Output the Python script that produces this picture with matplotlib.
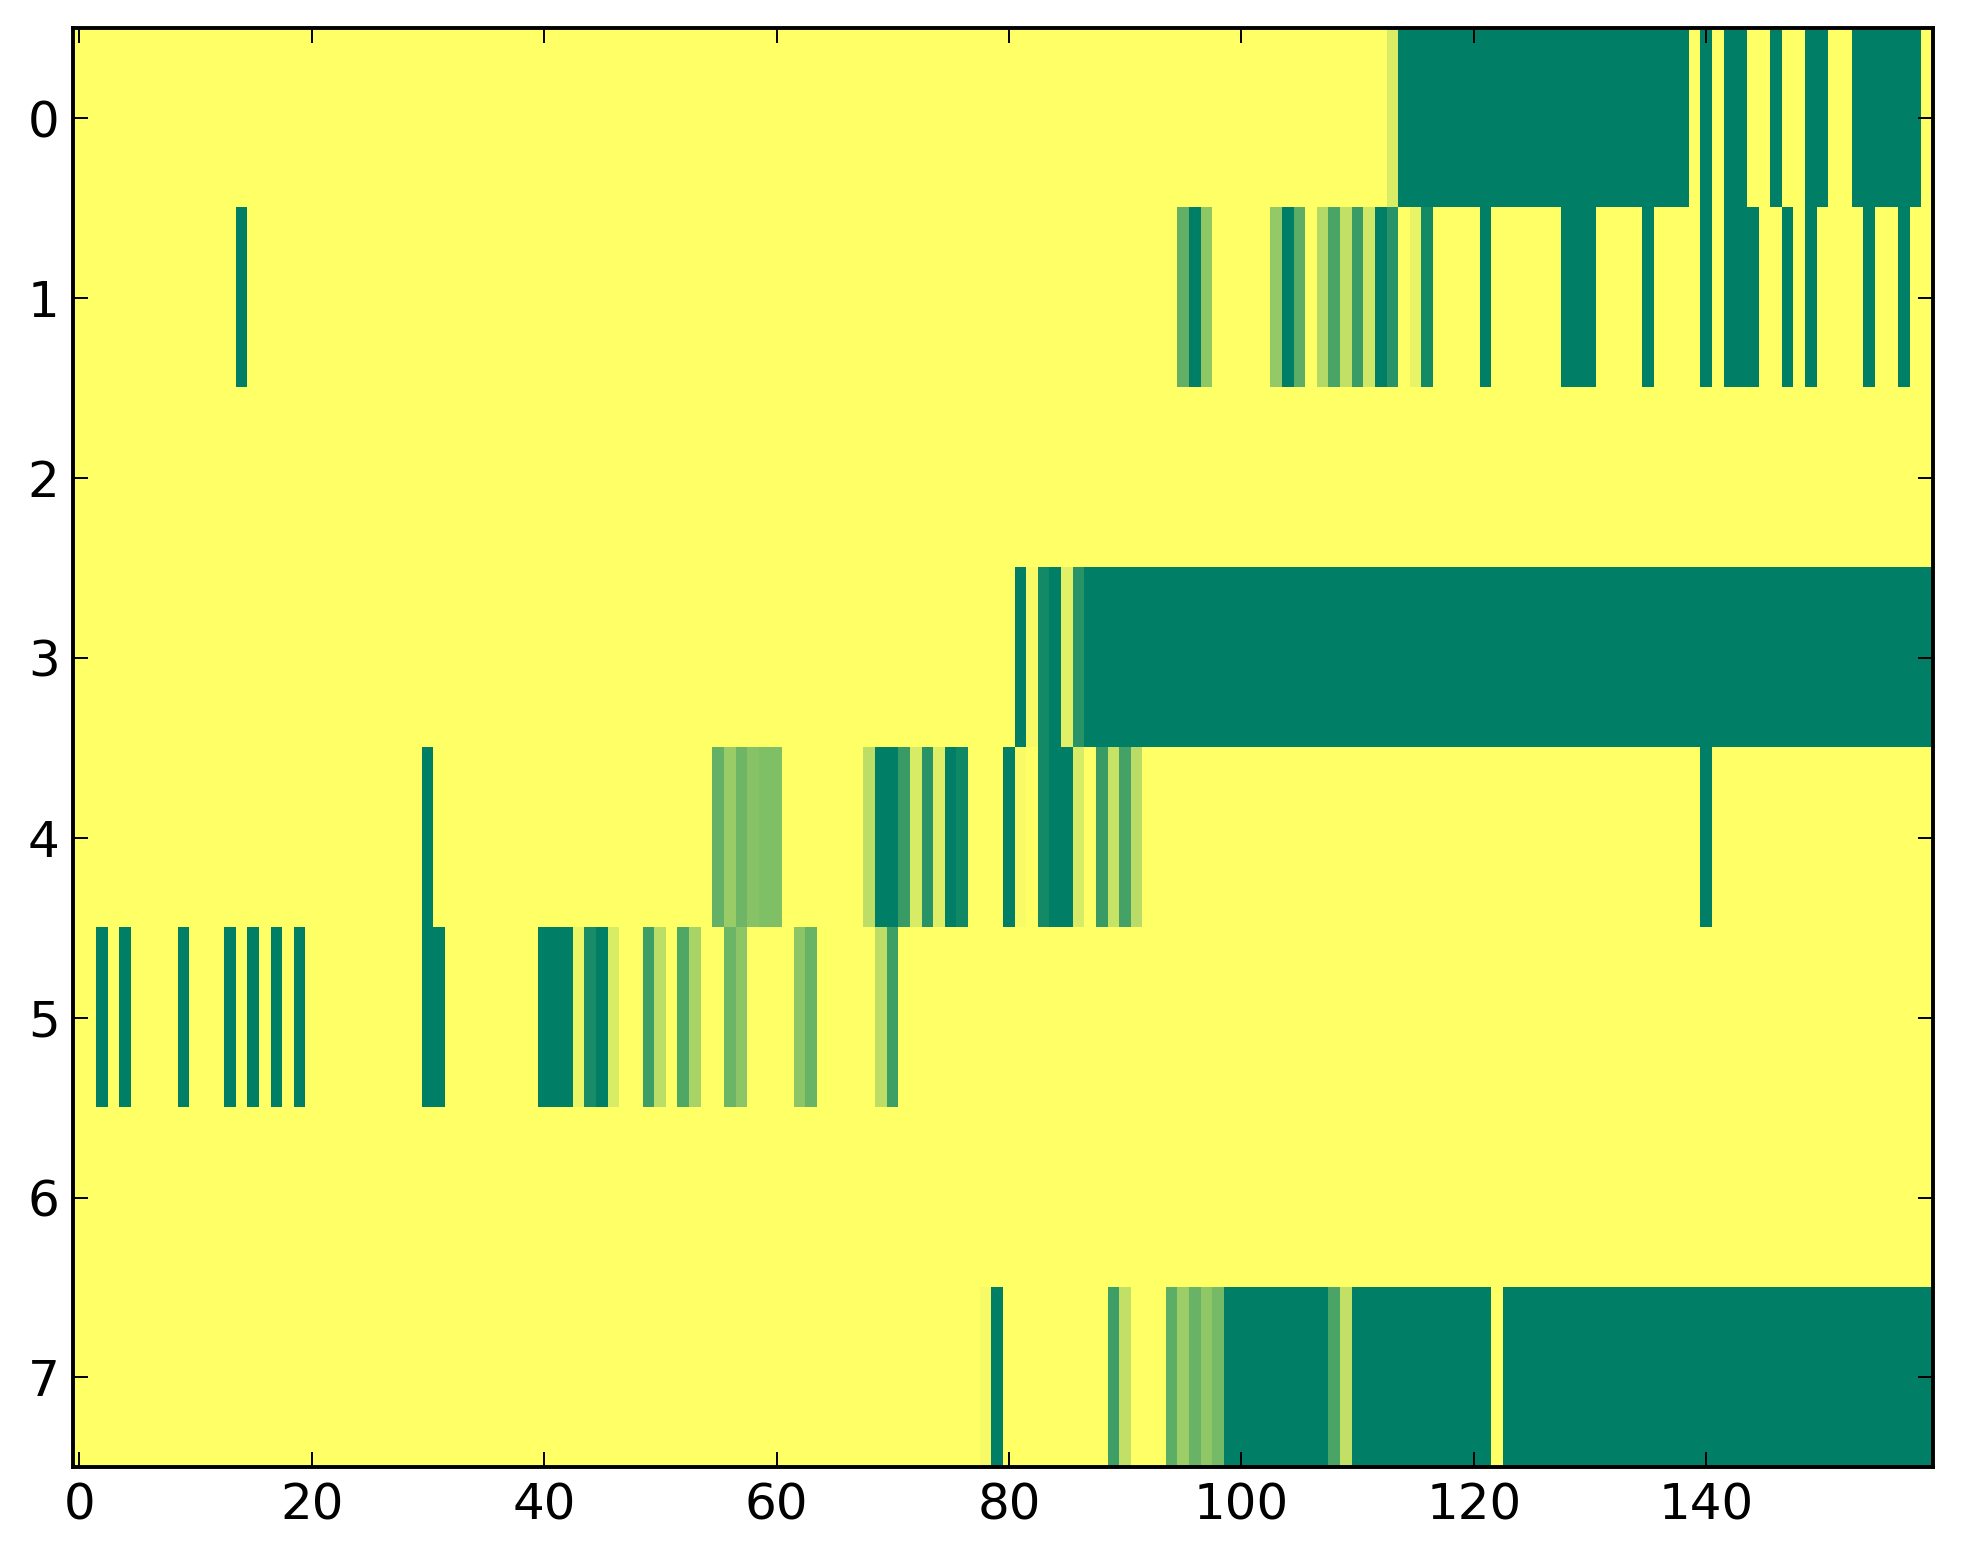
import numpy as np
import matplotlib
matplotlib.use("Agg")
import matplotlib.pyplot as plt

# one list per row, 160 columns, 20 values per line
row0 = [
    0, 0, 0, 0, 0, 0, 0, 0, 0, 0, 0, 0, 0, 0, 0, 0, 0, 0, 0, 0,
    0, 0, 0, 0, 0, 0, 0, 0, 0, 0, 0, 0, 0, 0, 0, 0, 0, 0, 0, 0,
    0, 0, 0, 0, 0, 0, 0, 0, 0, 0, 0, 0, 0, 0, 0, 0, 0, 0, 0, 0,
    0, 0, 0, 0, 0, 0, 0, 0, 0, 0, 0, 0, 0, 0, 0, 0, 0, 0, 0, 0,
    0, 0, 0, 0, 0, 0, 0, 0, 0, 0, 0, 0, 0, 0, 0, 0, 0, 0, 0, 0,
    0, 0, 0, 0, 0, 0, 0, 0, 0, 0, 0, 0, 0, .15, 1, 1, 1, 1, 1, 1,
    1, 1, 1, 1, 1, 1, 1, 1, 1, 1, 1, 1, 1, 1, 1, 1, 1, 1, 1, 0,
    1, 0, 1, 1, 0, 0, 1, 0, 0, 1, 1, 0, 0, 1, 1, 1, 1, 1, 1, 0,
]
row1 = [
    0, 0, 0, 0, 0, 0, 0, 0, 0, 0, 0, 0, 0, 0, 1, 0, 0, 0, 0, 0,
    0, 0, 0, 0, 0, 0, 0, 0, 0, 0, 0, 0, 0, 0, 0, 0, 0, 0, 0, 0,
    0, 0, 0, 0, 0, 0, 0, 0, 0, 0, 0, 0, 0, 0, 0, 0, 0, 0, 0, 0,
    0, 0, 0, 0, 0, 0, 0, 0, 0, 0, 0, 0, 0, 0, 0, 0, 0, 0, 0, 0,
    0, 0, 0, 0, 0, 0, 0, 0, 0, 0, 0, 0, 0, 0, 0, .62, 1, .44, 0, 0,
    0, 0, 0, .42, 1, .64, 0, .30, .71, .24, .77, .19, 1, .84, 0, .09, .92, 0, 0, 0,
    0, 1, 0, 0, 0, 0, 0, 0, 1, 1, 1, 0, 0, 0, 0, 1, 0, 0, 0, 0,
    1, 0, 1, 1, 1, 0, 0, 1, 0, 1, 0, 0, 0, 0, 1, 0, 0, 1, 0, 0,
]
row2 = [0] * 160
row3 = [
    0, 0, 0, 0, 0, 0, 0, 0, 0, 0, 0, 0, 0, 0, 0, 0, 0, 0, 0, 0,
    0, 0, 0, 0, 0, 0, 0, 0, 0, 0, 0, 0, 0, 0, 0, 0, 0, 0, 0, 0,
    0, 0, 0, 0, 0, 0, 0, 0, 0, 0, 0, 0, 0, 0, 0, 0, 0, 0, 0, 0,
    0, 0, 0, 0, 0, 0, 0, 0, 0, 0, 0, 0, 0, 0, 0, 0, 0, 0, 0, 0,
    0, 1, .04, .92, 1, .12, .84, 1, 1, 1, 1, 1, 1, 1, 1, 1, 1, 1, 1, 1,
    1, 1, 1, 1, 1, 1, 1, 1, 1, 1, 1, 1, 1, 1, 1, 1, 1, 1, 1, 1,
    1, 1, 1, 1, 1, 1, 1, 1, 1, 1, 1, 1, 1, 1, 1, 1, 1, 1, 1, 1,
    1, 1, 1, 1, 1, 1, 1, 1, 1, 1, 1, 1, 1, 1, 1, 1, 1, 1, 1, 1,
]
row4 = [
    0, 0, 0, 0, 0, 0, 0, 0, 0, 0, 0, 0, 0, 0, 0, 0, 0, 0, 0, 0,
    0, 0, 0, 0, 0, 0, 0, 0, 0, 0, 1, 0, 0, 0, 0, 0, 0, 0, 0, 0,
    0, 0, 0, 0, 0, 0, 0, 0, 0, 0, 0, 0, 0, 0, 0, .61, .40, .57, .47, .50,
    .50, 0, 0, 0, 0, 0, 0, 0, .26, 1, 1, .78, .16, .84, .13, 1, .93, 0, 0, 0,
    1, .03, 0, .92, 1, 1, .16, 0, .78, .22, .73, .27, 0, 0, 0, 0, 0, 0, 0, 0,
    0, 0, 0, 0, 0, 0, 0, 0, 0, 0, 0, 0, 0, 0, 0, 0, 0, 0, 0, 0,
    0, 0, 0, 0, 0, 0, 0, 0, 0, 0, 0, 0, 0, 0, 0, 0, 0, 0, 0, 0,
    1, 0, 0, 0, 0, 0, 0, 0, 0, 0, 0, 0, 0, 0, 0, 0, 0, 0, 0, 0,
]
row5 = [
    0, 0, 1, 0, 1, 0, 0, 0, 0, 1, 0, 0, 0, 1, 0, 1, 0, 1, 0, 1,
    0, 0, 0, 0, 0, 0, 0, 0, 0, 0, 1, 1, 0, 0, 0, 0, 0, 0, 0, 0,
    1, 1, 1, .08, .90, 1, .15, 0, 0, .76, .26, 0, .69, .34, 0, 0, .58, .45, 0, 0,
    0, 0, .45, .59, 0, 0, 0, 0, 0, .26, .76, 0, 0, 0, 0, 0, 0, 0, 0, 0,
    0, 0, 0, 0, 0, 0, 0, 0, 0, 0, 0, 0, 0, 0, 0, 0, 0, 0, 0, 0,
    0, 0, 0, 0, 0, 0, 0, 0, 0, 0, 0, 0, 0, 0, 0, 0, 0, 0, 0, 0,
    0, 0, 0, 0, 0, 0, 0, 0, 0, 0, 0, 0, 0, 0, 0, 0, 0, 0, 0, 0,
    0, 0, 0, 0, 0, 0, 0, 0, 0, 0, 0, 0, 0, 0, 0, 0, 0, 0, 0, 0,
]
row6 = [0] * 160
row7 = [
    0, 0, 0, 0, 0, 0, 0, 0, 0, 0, 0, 0, 0, 0, 0, 0, 0, 0, 0, 0,
    0, 0, 0, 0, 0, 0, 0, 0, 0, 0, 0, 0, 0, 0, 0, 0, 0, 0, 0, 0,
    0, 0, 0, 0, 0, 0, 0, 0, 0, 0, 0, 0, 0, 0, 0, 0, 0, 0, 0, 0,
    0, 0, 0, 0, 0, 0, 0, 0, 0, 0, 0, 0, 0, 0, 0, 0, 0, 0, .04, 1,
    0, 0, 0, 0, 0, 0, 0, 0, 0, .76, .24, 0, 0, 0, .64, .39, .59, .44, .54, 1,
    1, 1, 1, 1, 1, 1, 1, 1, .71, .24, 1, 1, 1, 1, 1, 1, 1, 1, 1, 1,
    1, 1, 0, 1, 1, 1, 1, 1, 1, 1, 1, 1, 1, 1, 1, 1, 1, 1, 1, 1,
    1, 1, 1, 1, 1, 1, 1, 1, 1, 1, 1, 1, 1, 1, 1, 1, 1, 1, 1, 1,
]

data = np.array([row0, row1, row2, row3, row4, row5, row6, row7], dtype=float)

xticks = [0, 20, 40, 60, 80, 100, 120, 140]
yticks = [0, 1, 2, 3, 4, 5, 6, 7]

fig = plt.figure(figsize=(1963 / 200, 1564 / 200), dpi=200)
ax = fig.add_axes([0.0374, 0.0618, 0.9473, 0.9201])

ax.imshow(data, cmap="summer_r", vmin=0, vmax=1, aspect="auto", interpolation="nearest")

ax.set_xticks(xticks)
ax.set_yticks(yticks)
ax.set_xlim(-0.5, 159.5)
ax.set_ylim(7.5, -0.5)

ax.tick_params(direction="in", top=True, right=True, length=5.4, width=0.7,
               labelsize=18, pad=5)
for s in ax.spines.values():
    s.set_linewidth(1.4)

plt.savefig("out.png", dpi=200, facecolor="white")
